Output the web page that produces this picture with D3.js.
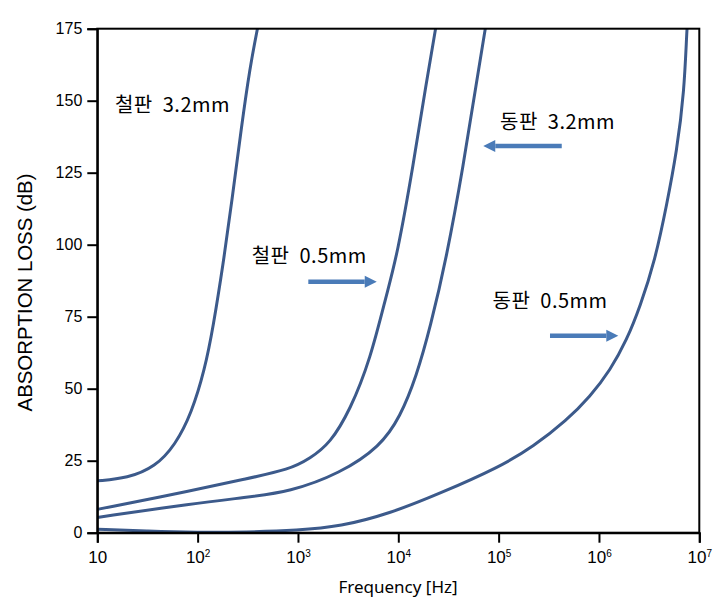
<!DOCTYPE html>
<html><head><meta charset="utf-8">
<script src="https://cdn.jsdelivr.net/npm/d3@7"></script>
<style>
html,body{margin:0;padding:0;background:#fff;}
svg{display:block;}
</style></head>
<body>
<svg id="chart" width="723" height="603"></svg>
<script>
// ---- data ----
const xTicks = [10, 1e2, 1e3, 1e4, 1e5, 1e6, 1e7];
const xTickBase = ["10", "10", "10", "10", "10", "10", "10"];
const xTickExp = ["", "2", "3", "4", "5", "6", "7"];
const yTicks = [0, 25, 50, 75, 100, 125, 150, 175];

// frequency [Hz] / absorption loss [dB]
const iron32F = [10, 20, 38, 60, 87, 117.5, 143, 180, 219, 275, 331, 394, 427];
const iron32A = [18, 18.9, 22.9, 30.5, 41.5, 56.5, 71.5, 93.5, 114.9, 141.6, 161.2, 175, 181];

const iron05F = [10, 93, 295, 832, 1318, 2089, 3311, 5248, 7674, 9700, 14125, 19055, 23442, 25119];
const iron05A = [8.1, 14.8, 18.6, 22, 25.8, 31, 42.6, 60, 83.1, 96, 127.7, 156.6, 174.5, 181];

const cu32F = [10, 93, 295, 832, 2630, 6607, 10471, 15136, 20893, 30200, 44668, 60256, 73282, 78524];
const cu32A = [5.3, 10.2, 12.2, 14.2, 20.6, 29.9, 40.3, 54.2, 71.5, 95.3, 127.7, 156.6, 174.5, 181];

const cu05F = [10, 32, 100, 300, 1000, 2630, 8318, 26303, 103300, 221800, 478630, 812831, 1300000, 1890000, 2570000, 3630781, 4731513, 5956621, 7079458, 7498942, 7762471];
const cu05A = [1.2, 0.5, 0.1, 0.2, 0.8, 2.1, 6.7, 13.7, 22.9, 29.9, 39.1, 47.2, 56.5, 66.9, 78.5, 94.7, 113.8, 132.3, 153.1, 174.5, 181];

const labels = ["철판 3.2mm", "철판 0.5mm", "동판 3.2mm", "동판 0.5mm"];
// annotation anchors [freq, dB]
const labelFreq = [15, 346, 103300, 87000];
const labelDb = [146.2, 93.5, 140.1, 77.9];
// arrows: from freq -> to freq at dB
const arrowFrom = [1268, 425600, 325000];
const arrowTo = [6095, 70300, 1560000];
const arrowDb = [87.15, 134.3, 68.4];

// ---- layout ----
const svg = d3.select("#chart");
const m = {left: 97.3, right: 699.3, top: 28.7, bottom: 532.7};
const x = d3.scaleLog().domain([10, 1e7]).range([m.left, m.right]);
const y = d3.scaleLinear().domain([0, 175]).range([m.bottom, m.top]);

const lineColor = "#3c5a8b";
const arrowColor = "#4a7bb8";

svg.append("defs").append("clipPath").attr("id","clip")
  .append("rect").attr("x", m.left).attr("y", m.top).attr("width", m.right-m.left).attr("height", m.bottom-m.top);

const line = d3.line().x(d=>x(d[0])).y(d=>y(d[1])).curve(d3.curveBasis);
const series = [[iron32F, iron32A],[iron05F, iron05A],[cu32F, cu32A],[cu05F, cu05A]];
const g = svg.append("g").attr("clip-path","url(#clip)");
series.forEach(([fs, as]) => {
  g.append("path").datum(fs.map((f,i)=>[f, as[i]]))
    .attr("d", line).attr("fill","none").attr("stroke", lineColor).attr("stroke-width", 3)
    .attr("stroke-linecap","round");
});

// frame
svg.append("rect").attr("x", m.left).attr("y", m.top).attr("width", m.right-m.left).attr("height", m.bottom-m.top)
  .attr("fill","none").attr("stroke","#000").attr("stroke-width",2);

// y axis
const yAxis = d3.axisLeft(y).tickValues(yTicks).tickSize(10).tickPadding(5).tickFormat(d3.format("d"));
const ya = svg.append("g").attr("transform",`translate(${m.left},0)`).call(yAxis);
ya.select(".domain").attr("stroke","#000").attr("stroke-width",2);
ya.selectAll(".tick line").attr("stroke","#000").attr("stroke-width",2);
ya.selectAll(".tick text").attr("font-family","'Liberation Sans', Arial, sans-serif").attr("font-size",16).attr("fill","#000");

// x axis
const xAxis = d3.axisBottom(x).tickValues(xTicks).tickSize(10).tickPadding(8).tickFormat(()=>"");
const xa = svg.append("g").attr("transform",`translate(0,${m.bottom})`).call(xAxis);
xa.select(".domain").attr("stroke","#000").attr("stroke-width",2);
xa.selectAll(".tick line").attr("stroke","#000").attr("stroke-width",2);
xa.selectAll(".tick text").each(function(d,i){
  const t = d3.select(this).text(null)
    .attr("font-family","'Liberation Sans', Arial, sans-serif").attr("font-size",17).attr("fill","#000")
    .attr("dy", null).attr("y", 30.6).attr("text-anchor","middle");
  t.append("tspan").text(xTickBase[i]);
  if (xTickExp[i]) t.append("tspan").attr("font-size",10).attr("dy",-6.3).text(xTickExp[i]);
});

// axis titles
svg.append("text").attr("x", 398).attr("y", 593.3).attr("text-anchor","middle")
  .attr("font-family","'Noto Sans', 'Liberation Sans', sans-serif").attr("font-size",17).attr("fill","#000")
  .text("Frequency [Hz]");
svg.append("text").attr("transform","translate(31.7,292.5) rotate(-90)").attr("text-anchor","middle")
  .attr("font-family","'Liberation Sans', Arial, sans-serif").attr("font-size",20.4).attr("fill","#000")
  .text("ABSORPTION LOSS (dB)");

// annotations
labels.forEach((s,i)=>{
  svg.append("text").attr("x", x(labelFreq[i])).attr("y", y(labelDb[i]))
    .attr("font-family","'Noto Sans CJK KR', sans-serif").attr("font-size",20)
    .attr("letter-spacing",0.5).attr("word-spacing",5).attr("fill","#000")
    .text(s);
});
arrowFrom.forEach((f0,i)=>{
  const x0 = x(f0), x1 = x(arrowTo[i]), yy = y(arrowDb[i]);
  const dir = x1 > x0 ? 1 : -1;
  const head = 12;
  svg.append("line").attr("x1",x0).attr("y1",yy).attr("x2",x1 - dir*head).attr("y2",yy)
    .attr("stroke",arrowColor).attr("stroke-width",4.5);
  svg.append("path").attr("d",`M${x1},${yy} L${x1-dir*head},${yy-6} L${x1-dir*head},${yy+6} Z`).attr("fill",arrowColor);
});
</script>
</body></html>
